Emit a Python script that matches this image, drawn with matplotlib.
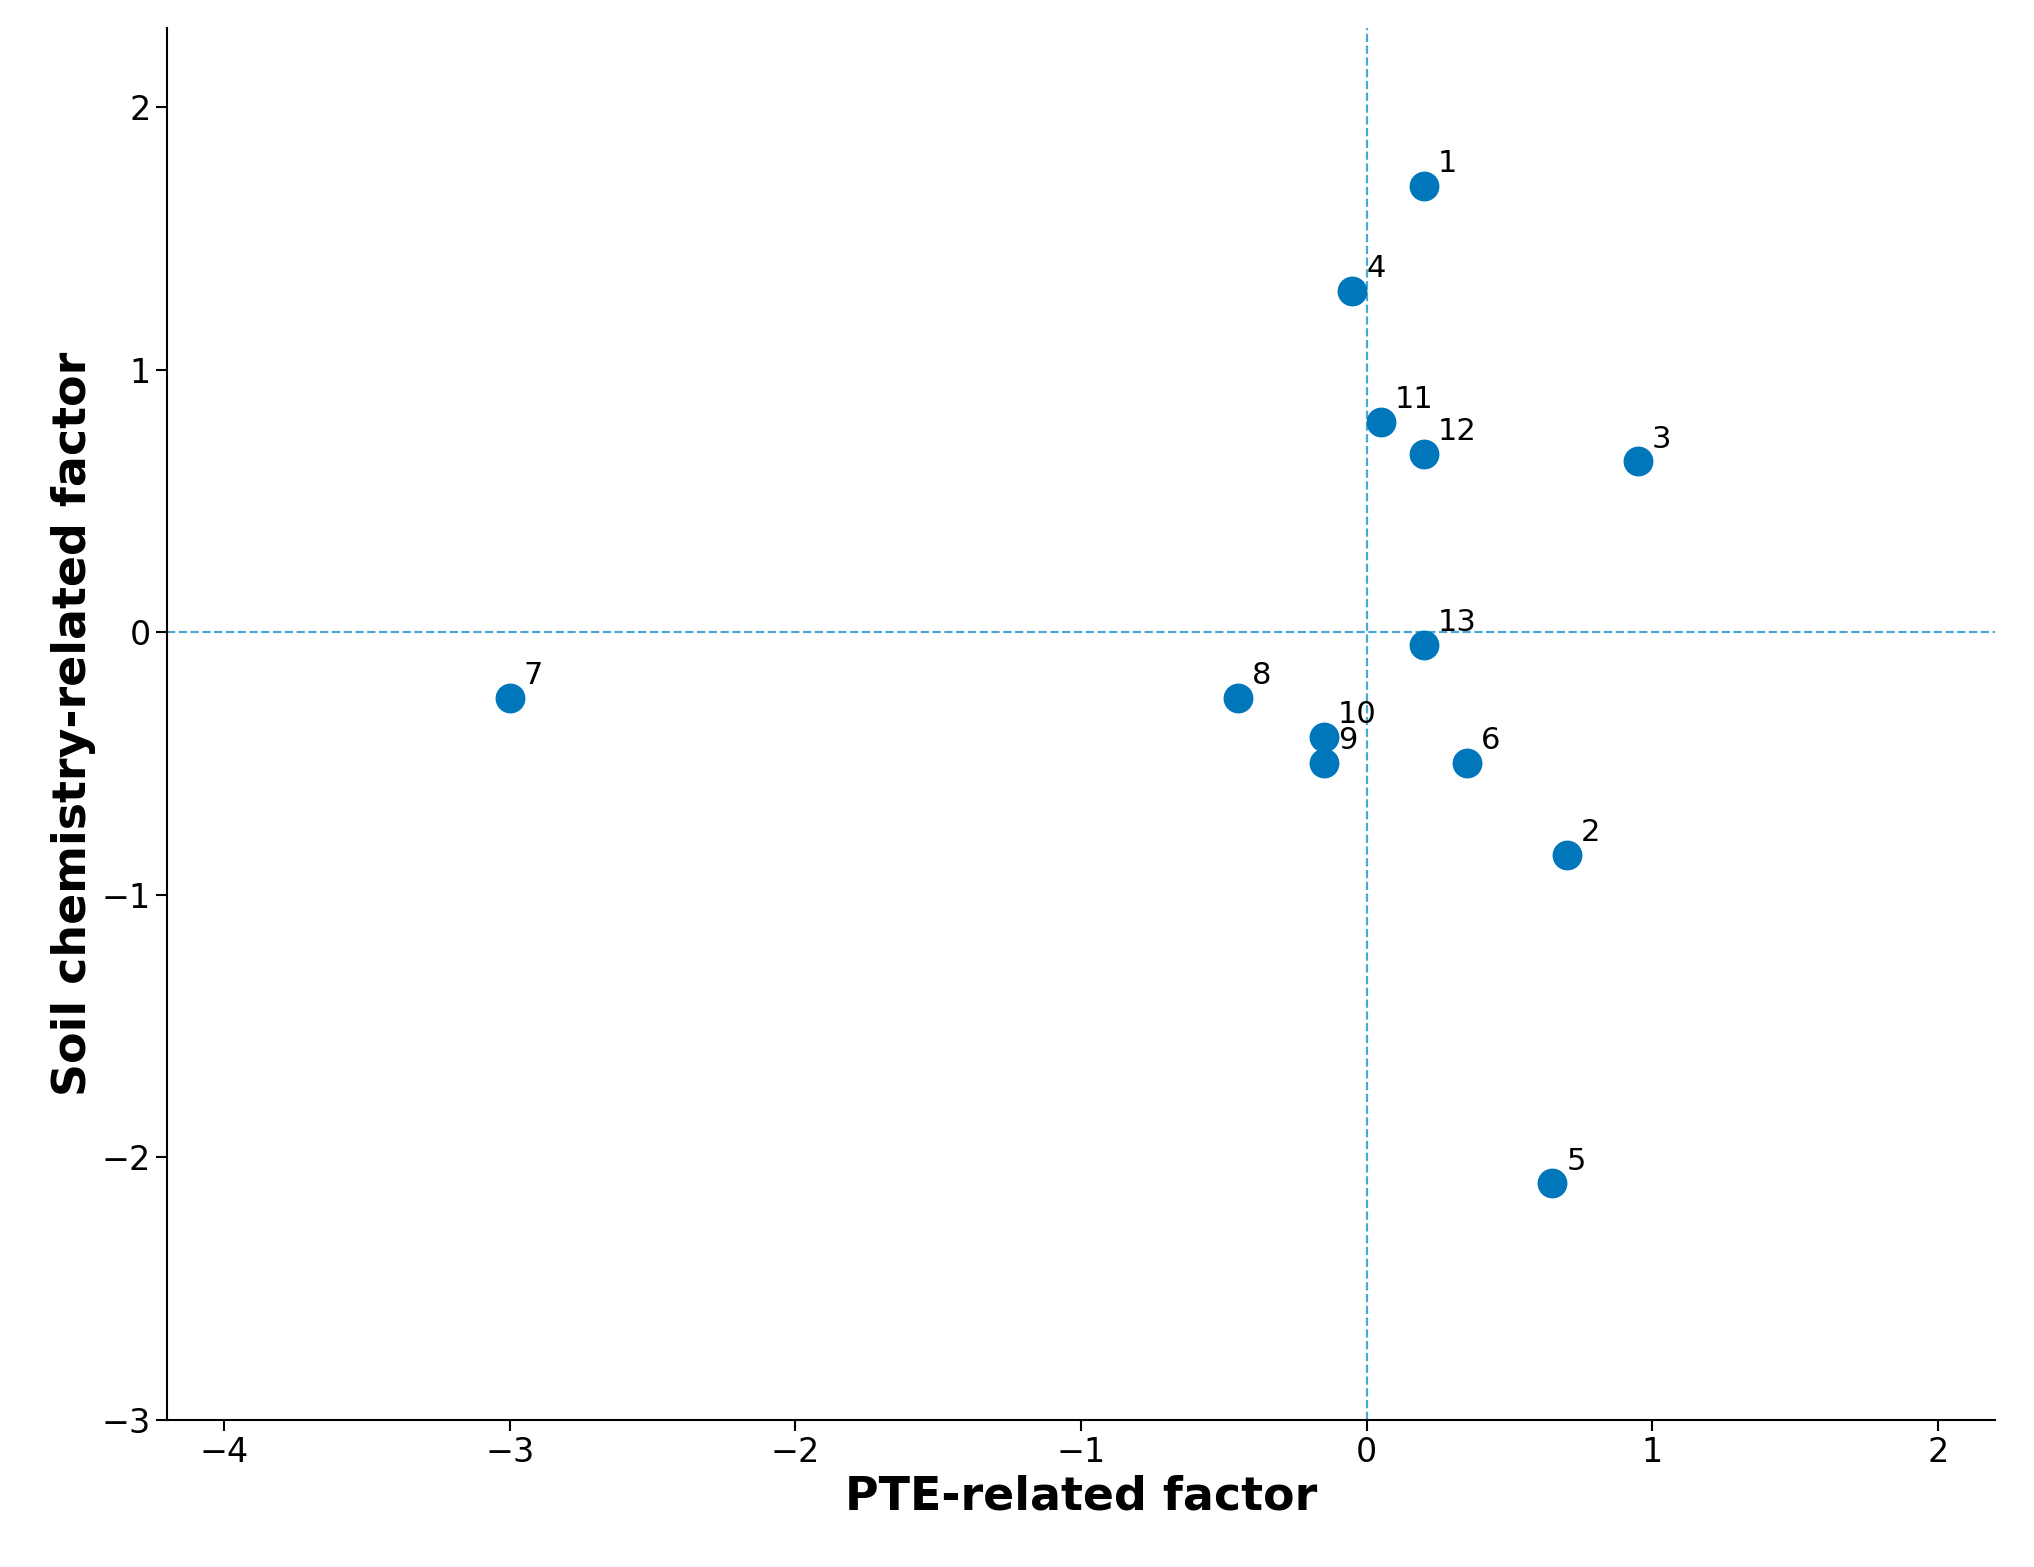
import matplotlib.pyplot as plt

labels = ['1', '2', '3', '4', '5', '6', '7', '8', '9', '10', '11', '12', '13']
pte = [0.2, 0.7, 0.95, -0.05, 0.65, 0.35, -3.0, -0.45, -0.15, -0.15, 0.05, 0.2, 0.2]
soil = [1.7, -0.85, 0.65, 1.3, -2.1, -0.5, -0.25, -0.25, -0.5, -0.4, 0.8, 0.68, -0.05]

fig = plt.figure(figsize=(20.34, 15.67), dpi=100)
ax = fig.add_axes([0.082, 0.094, 0.899, 0.888])

ax.axhline(0, color='#4aa8d8', linestyle='--', linewidth=1.6, zorder=1)
ax.axvline(0, color='#4aa8d8', linestyle='--', linewidth=1.6, zorder=1)
ax.scatter(pte, soil, s=420, color='#0077bb', zorder=3)
for x, y, t in zip(pte, soil, labels):
    ax.annotate(t, (x, y), xytext=(10, 10), textcoords='offset points', fontsize=22)

ax.set_xlim(-4.2, 2.2)
ax.set_ylim(-3, 2.3)
ax.set_xticks([-4, -3, -2, -1, 0, 1, 2])
ax.set_yticks([-3, -2, -1, 0, 1, 2])
ax.tick_params(labelsize=24, width=1.5, length=8)
for s in ['top', 'right']:
    ax.spines[s].set_visible(False)
for s in ['left', 'bottom']:
    ax.spines[s].set_linewidth(1.5)
ax.set_xlabel('PTE-related factor', fontsize=33, fontweight='bold')
ax.set_ylabel('Soil chemistry-related factor', fontsize=33, fontweight='bold')

fig.savefig('out.png')
